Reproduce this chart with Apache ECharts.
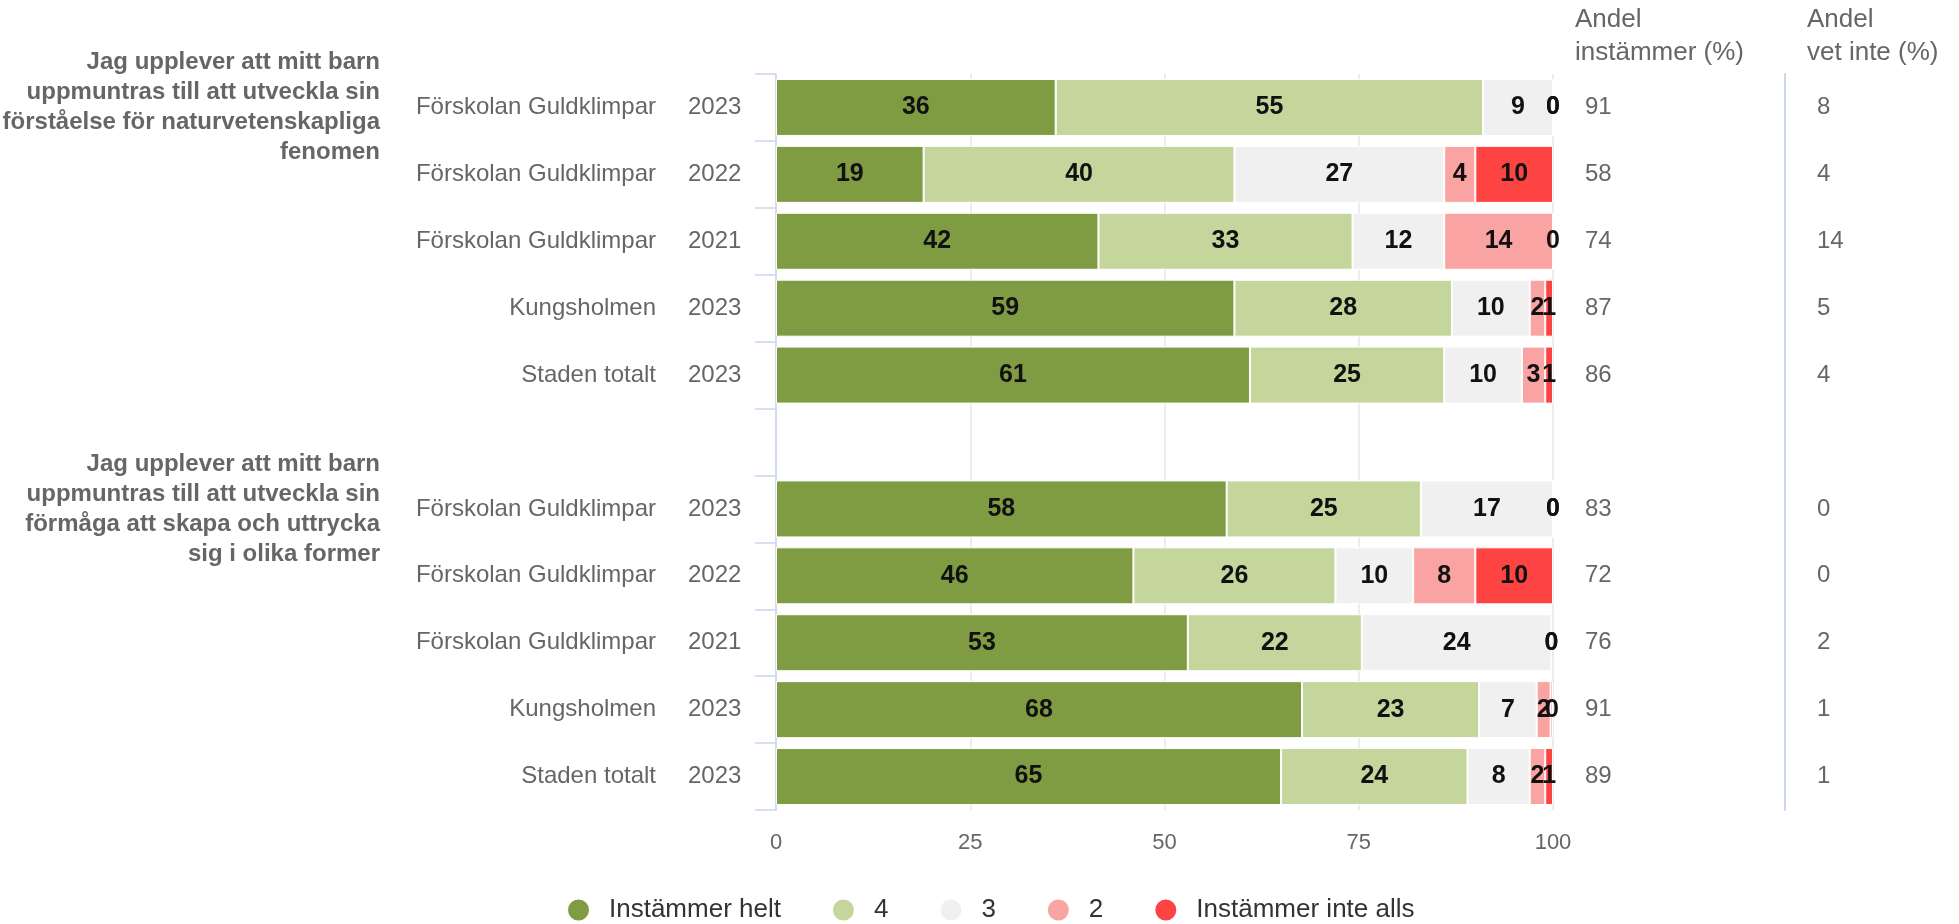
<!DOCTYPE html>
<html><head><meta charset="utf-8">
<script src="https://cdn.jsdelivr.net/npm/echarts@6/dist/echarts.min.js"></script>
<style>html,body{margin:0;padding:0;background:#fff}#c{width:1959px;height:924px}</style>
</head><body><div id="c"></div>
<script>
// ---- data ----
const groupTitles = [
  'Jag upplever att mitt barn\nuppmuntras till att utveckla sin\nförståelse för naturvetenskapliga\nfenomen',
  'Jag upplever att mitt barn\nuppmuntras till att utveckla sin\nförmåga att skapa och uttrycka\nsig i olika former'
];
const units = ['Förskolan Guldklimpar','Förskolan Guldklimpar','Förskolan Guldklimpar','Kungsholmen','Staden totalt'];
const years = ['2023','2022','2021','2023','2023'];
const seriesNames = ['Instämmer helt','4','3','2','Instämmer inte alls'];
const seriesColors = ['#809c43','#c4d69c','#f0f0f0','#f9a3a2','#fe4343'];
// group 1 (5 rows) then group 2 (5 rows); shares in %, labels shown rounded
const helt      = [36, 19, 41.5, 59, 61,   58, 46, 53.0, 67.7, 65];
const v4        = [55, 40, 32.7, 28, 25,   25, 26, 22.4, 22.8, 24];
const v3        = [ 9, 27, 11.8, 10, 10,   17, 10, 24.4,  7.4,  8];
const v2        = [ 0,  4, 14.0,  2,  3,    0,  8,  0,    1.8,  2];
const inteAlls  = [ 0, 10,  0,    1,  1,    0, 10,  0,    0.3,  1];
const andelInstammer = [91,58,74,87,86, 83,72,76,91,89];
const andelVetInte   = [ 8, 4,14, 5, 4,  0, 0, 2, 1, 1];
const xTicks = [0,25,50,75,100];
const headers = ['Andel\ninstämmer (%)','Andel\nvet inte (%)'];

// ---- build ----
const gap = (arr, blank) => [...arr.slice(0,5), blank, ...arr.slice(5)];
const catNames = gap([...units, ...units], '');
const catYears = gap([...years, ...years], '');
const values = [helt, v4, v3, v2, inteAlls].map(a => gap(a, '-'));
const FONT = "'Liberation Sans', Arial, sans-serif";

const chart = echarts.init(document.getElementById('c'));
const option = {
  animation: false,
  backgroundColor: '#fff',
  textStyle: { fontFamily: FONT },
  grid: { left: 776, right: 406, top: 74, bottom: 114, containLabel: false },
  legend: {
    top: 892, left: 561,
    icon: 'circle', itemWidth: 23, itemHeight: 23, itemGap: 50,
    textStyle: { fontSize: 26, color: '#333', fontFamily: FONT, padding: [0,0,0,14] },
    data: seriesNames
  },
  xAxis: {
    type: 'value', min: xTicks[0], max: xTicks[xTicks.length-1], interval: xTicks[1]-xTicks[0],
    axisLine: { show: false }, axisTick: { show: false },
    axisLabel: { fontSize: 22, color: '#666', margin: 22, fontFamily: FONT },
    splitLine: { show: true, lineStyle: { color: '#e6e6e6', width: 1.5 } }
  },
  yAxis: [
    {
      type: 'category', inverse: true, data: catYears,
      axisLine: { show: true, lineStyle: { color: '#ccd6eb', width: 1.5 } },
      axisTick: { show: true, length: 21, lineStyle: { color: '#ccd6eb', width: 1.5 } },
      axisLabel: { margin: 88, align: 'left', fontSize: 24, color: '#666', fontFamily: FONT }
    },
    {
      type: 'category', inverse: true, position: 'right', offset: 0,
      data: gap(andelInstammer.map(String), ''),
      axisLine: { show: false }, axisTick: { show: false },
      axisLabel: { margin: 32, align: 'left', fontSize: 24, color: '#666', fontFamily: FONT }
    },
    {
      type: 'category', inverse: true, position: 'right', offset: 232,
      data: gap(andelVetInte.map(String), ''),
      axisLine: { show: true, lineStyle: { color: '#ccd6eb', width: 2 } }, axisTick: { show: false },
      axisLabel: { margin: 32, align: 'left', fontSize: 24, color: '#666', fontFamily: FONT }
    },
    {
      type: 'category', inverse: true, position: 'left', offset: 0,
      data: catNames,
      axisLine: { show: false }, axisTick: { show: false },
      axisLabel: { margin: 120, align: 'right', fontSize: 24, color: '#666', fontFamily: FONT }
    }
  ],
  series: seriesNames.map((name, k) => ({
    name, type: 'bar', stack: 'total', barWidth: 57, yAxisIndex: 0,
    itemStyle: { color: seriesColors[k], borderColor: '#fff', borderWidth: 1 },
    label: {
      show: true, position: 'inside', fontSize: 25, fontWeight: 'bold', color: '#111', fontFamily: FONT,
      formatter: p => String(Math.round(p.value))
    },
    data: values[k]
  }))
};
chart.setOption(option);

// group titles & column headers (positions derived from the axes)
const yFirst = [0, 6].map(i => chart.convertToPixel({ yAxisIndex: 0 }, i));
const gridRight = chart.convertToPixel({ xAxisIndex: 0 }, 100);
const graphics = groupTitles.map((t, g) => ({
  type: 'text', x: 380, y: yFirst[g] - 60,
  style: { text: t, fontSize: 24, fontWeight: 'bold', fontFamily: FONT, fill: '#666', align: 'right', lineHeight: 30 }
}));
graphics.push({ type: 'text', x: gridRight + 22, y: 3,
  style: { text: headers[0], fontSize: 26, fontFamily: FONT, fill: '#666', lineHeight: 33 } });
graphics.push({ type: 'text', x: gridRight + 254, y: 3,
  style: { text: headers[1], fontSize: 26, fontFamily: FONT, fill: '#666', lineHeight: 33 } });
chart.setOption({ graphic: graphics });
</script>
</body></html>
